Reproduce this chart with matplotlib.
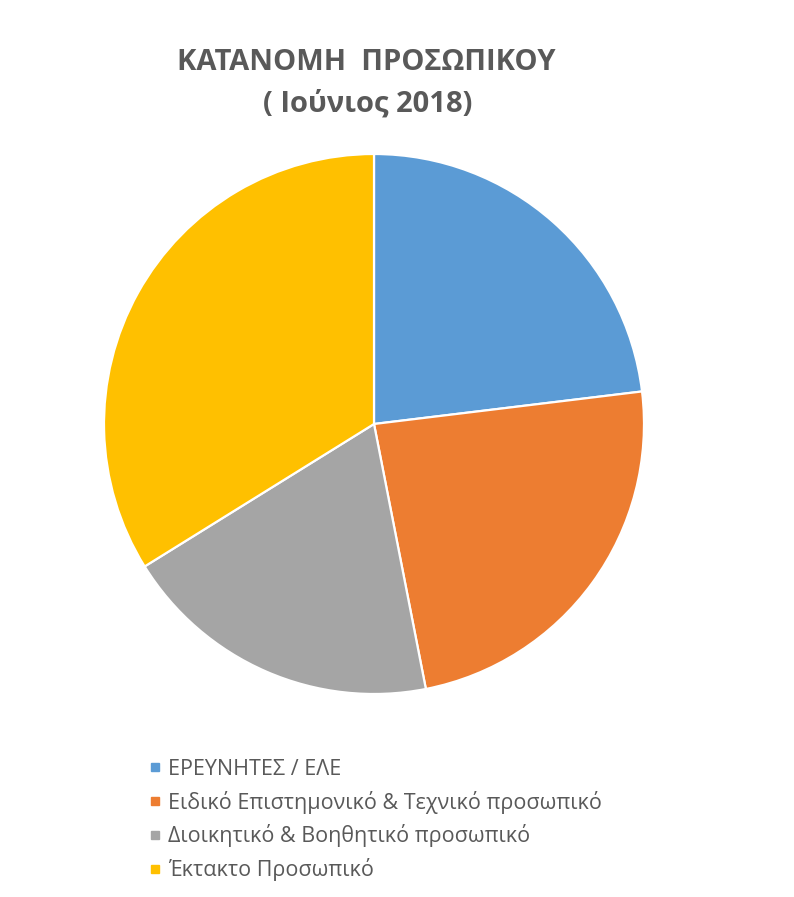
import matplotlib.pyplot as plt
from matplotlib.lines import Line2D

plt.rcParams['font.family'] = ['Open Sans', 'DejaVu Sans']

categories = [
    "ΕΡΕΥΝΗΤΕΣ / ΕΛΕ",
    "Ειδικό Επιστημονικό & Τεχνικό προσωπικό",
    "Διοικητικό & Βοηθητικό προσωπικό",
    "Έκτακτο Προσωπικό",
]
counts = [60, 62, 50, 88]
colors = ["#5B9BD5", "#ED7D31", "#A5A5A5", "#FFC000"]
title_lines = ["ΚΑΤΑΝΟΜΗ  ΠΡΟΣΩΠΙΚΟΥ", "( Ιούνιος 2018)"]

W, H = 794, 897
fig = plt.figure(figsize=(W / 100, H / 100), dpi=100)

# pie centre approx (374, 424) px, radius 270 px
ax = fig.add_axes([(374 - 270) / W, (H - 694) / H, 540 / W, 540 / H])
wedges, _ = ax.pie(counts, colors=colors, startangle=90, counterclock=False,
                   radius=1, wedgeprops=dict(edgecolor="white", linewidth=1.6))
ax.set_xlim(-1, 1)
ax.set_ylim(-1, 1)
ax.set_aspect("equal")
ax.axis("off")

fig.text(366 / W, 1 - 63 / H, title_lines[0], ha="center", va="center",
         fontsize=21, fontweight="bold", color="#595959")
fig.text(368 / W, 1 - 104 / H, title_lines[1], ha="center", va="center",
         fontsize=21, fontweight="bold", color="#595959")

handles = [Line2D([], [], marker="s", linestyle="none", markersize=6,
                  markerfacecolor=c, markeredgecolor=c) for c in colors]
fig.legend(handles, categories, loc="upper left",
           bbox_to_anchor=(138 / W, 1 - 748 / H), frameon=False,
           fontsize=15.5, labelcolor="#595959", handlelength=0.6,
           handletextpad=0.3, labelspacing=0.5, borderpad=0)

fig.savefig("out.png", dpi=100, facecolor="white")
